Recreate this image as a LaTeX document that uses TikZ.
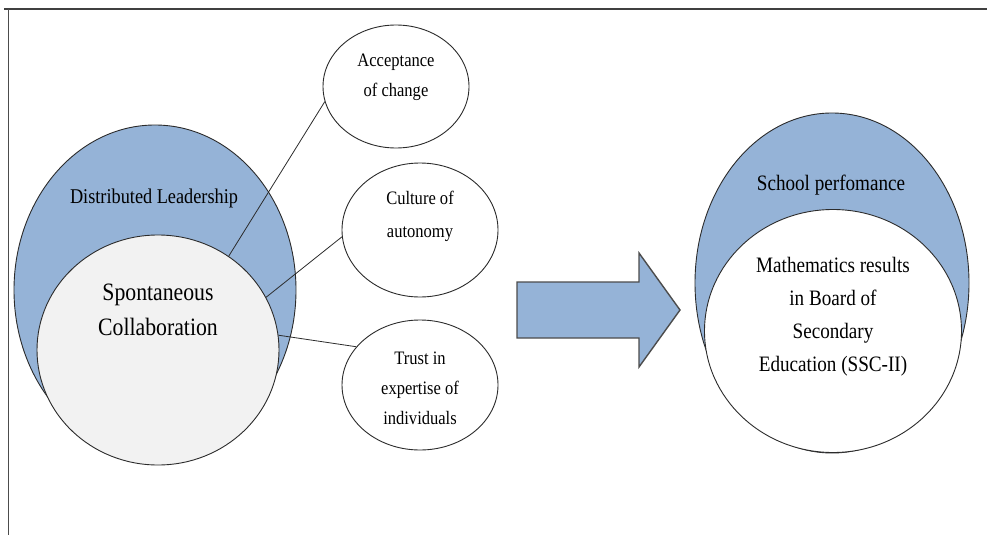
\documentclass[tikz,border=0pt]{standalone}
\usepackage{fontspec}
\setmainfont{Liberation Serif}[FakeStretch=0.87]
\usetikzlibrary{shapes.geometric}
\definecolor{fillblue}{HTML}{95B3D7}
\definecolor{innergray}{HTML}{F2F2F2}
\definecolor{edgegray}{HTML}{2B2B2B}
\tikzset{
  oval/.style={ellipse, draw=edgegray, line width=0.9pt, inner sep=0pt},
  lbl/.style={align=center, inner sep=0pt, text=black},
  conn/.style={draw=edgegray, line width=0.8pt},
  smalltext/.style={lbl, font=\fontsize{19}{30}\selectfont},
}
\begin{document}
\begin{tikzpicture}[x=1pt,y=-1pt]
\useasboundingbox (0,0) rectangle (987,535);
% frame
\draw[black!75, line width=2pt] (4,9.5) -- (987,9.5);
\draw[black!70, line width=1pt] (8,9.5) -- (8,535);

% left group
\node[oval, fill=fillblue, minimum width=282pt, minimum height=330pt] (dl) at (155,290) {};
\node[oval, fill=innergray, minimum width=242pt, minimum height=230pt] (sc) at (158,350) {};
\node[lbl, font=\fontsize{21}{25}\selectfont] (dltext) at (154,198) {Distributed Leadership};
\node[lbl, font=\fontsize{25}{35}\selectfont] (sctext) at (158,310) {Spontaneous\\Collaboration};

% small ellipses
\node[oval, fill=white, minimum width=146pt, minimum height=123pt] (acc) at (396,86.5) {};
\node[oval, fill=white, minimum width=156pt, minimum height=134pt] (cul) at (420,230) {};
\node[oval, fill=white, minimum width=156pt, minimum height=130pt] (tru) at (420,385) {};
\node[smalltext] (acctext) at (396,77) {Acceptance\\of change};
\node[smalltext, font=\fontsize{19}{33}\selectfont] (cultext) at (420,216) {Culture of\\autonomy};
\node[smalltext] (trutext) at (420,388) {Trust in\\expertise of\\individuals};

% connectors
\draw[conn] (sc.53) -- (acc.192);
\draw[conn] (sc.26) -- (cul.185);
\draw[conn] (sc.7) -- (tru.149);

% big arrow
\draw[fill=fillblue, draw=black!70, line width=1.4pt, line join=miter]
  (517,282) -- (639,282) -- (639,253) -- (680,310) -- (639,367) -- (639,338) -- (517,338) -- cycle;

% right group
\node[oval, fill=fillblue, minimum width=274pt, minimum height=340pt] (sp) at (832,283) {};
\node[oval, fill=white, minimum width=257pt, minimum height=243pt] (mr) at (833,331) {};
\node[lbl, font=\fontsize{22}{26}\selectfont] (sptext) at (831,185) {School perfomance};
\node[lbl, font=\fontsize{22}{33}\selectfont] (mrtext) at (833,317) {Mathematics results\\in Board of\\Secondary\\Education (SSC-II)};
\end{tikzpicture}
\end{document}
